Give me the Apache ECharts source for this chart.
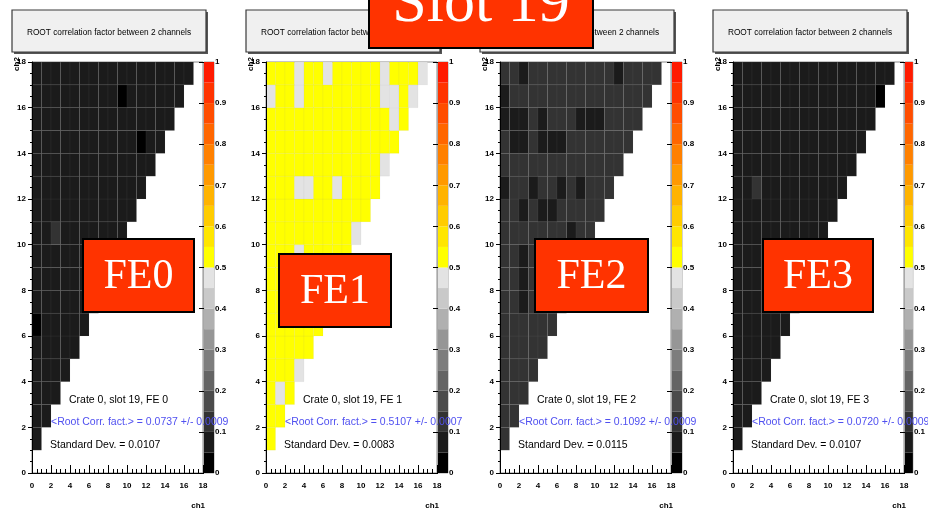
<!DOCTYPE html>
<html>
<head>
<meta charset="utf-8">
<script src="https://cdn.jsdelivr.net/npm/echarts@6/dist/echarts.min.js"></script>
<style>
html,body{margin:0;padding:0;background:#fff;}
#chart{width:928px;height:509px;}
</style>
</head>
<body>
<div id="chart"></div>
<script>
// ---------------- DATA ----------------
// rows are ch2 = 1..17, each row holds the cells ch1 = 0..ch2-1
const fe0Values = [
  [0.07],
  [0.07, 0.07],
  [0.07, 0.07, 0.07],
  [0.07, 0.07, 0.07, 0.07],
  [0.07, 0.07, 0.07, 0.07, 0.07],
  [0.03, 0.07, 0.07, 0.07, 0.07, 0.07],
  [0.07, 0.07, 0.07, 0.07, 0.07, 0.07, 0.07],
  [0.07, 0.07, 0.07, 0.07, 0.07, 0.07, 0.07, 0.07],
  [0.07, 0.07, 0.07, 0.07, 0.07, 0.07, 0.07, 0.07, 0.07],
  [0.07, 0.07, 0.12, 0.07, 0.07, 0.07, 0.07, 0.07, 0.07, 0.07],
  [0.07, 0.07, 0.07, 0.07, 0.07, 0.07, 0.07, 0.07, 0.07, 0.07, 0.07],
  [0.07, 0.07, 0.07, 0.07, 0.07, 0.07, 0.07, 0.07, 0.07, 0.07, 0.07, 0.07],
  [0.07, 0.07, 0.07, 0.07, 0.07, 0.07, 0.07, 0.07, 0.07, 0.07, 0.07, 0.07, 0.07],
  [0.07, 0.07, 0.07, 0.07, 0.07, 0.07, 0.07, 0.07, 0.07, 0.07, 0.07, 0.03, 0.07, 0.07],
  [0.07, 0.07, 0.07, 0.07, 0.07, 0.07, 0.07, 0.07, 0.07, 0.07, 0.07, 0.07, 0.07, 0.07, 0.07],
  [0.07, 0.07, 0.07, 0.07, 0.07, 0.07, 0.07, 0.07, 0.07, 0.03, 0.07, 0.07, 0.07, 0.07, 0.07, 0.07],
  [0.07, 0.07, 0.07, 0.07, 0.07, 0.07, 0.07, 0.07, 0.07, 0.07, 0.07, 0.07, 0.07, 0.07, 0.07, 0.07, 0.07]
];
const fe1Values = [
  [0.51],
  [0.51, 0.51],
  [0.51, 0.48, 0.51],
  [0.51, 0.51, 0.51, 0.48],
  [0.51, 0.51, 0.51, 0.51, 0.51],
  [0.51, 0.51, 0.51, 0.51, 0.51, 0.51],
  [0.51, 0.51, 0.51, 0.51, 0.51, 0.51, 0.51],
  [0.51, 0.51, 0.51, 0.51, 0.51, 0.51, 0.51, 0.51],
  [0.51, 0.51, 0.51, 0.48, 0.51, 0.51, 0.51, 0.51, 0.51],
  [0.51, 0.51, 0.51, 0.51, 0.51, 0.51, 0.51, 0.51, 0.51, 0.48],
  [0.51, 0.51, 0.51, 0.51, 0.51, 0.51, 0.51, 0.51, 0.51, 0.51, 0.51],
  [0.51, 0.51, 0.51, 0.48, 0.48, 0.51, 0.51, 0.48, 0.51, 0.51, 0.51, 0.51],
  [0.51, 0.51, 0.51, 0.51, 0.51, 0.51, 0.51, 0.51, 0.51, 0.51, 0.51, 0.51, 0.48],
  [0.51, 0.51, 0.51, 0.51, 0.51, 0.51, 0.51, 0.51, 0.51, 0.51, 0.51, 0.51, 0.51, 0.51],
  [0.51, 0.51, 0.51, 0.51, 0.51, 0.51, 0.51, 0.51, 0.51, 0.51, 0.51, 0.51, 0.51, 0.48, 0.51],
  [0.48, 0.51, 0.51, 0.48, 0.51, 0.51, 0.51, 0.51, 0.51, 0.51, 0.51, 0.51, 0.48, 0.48, 0.51, 0.48],
  [0.51, 0.51, 0.51, 0.48, 0.51, 0.51, 0.48, 0.51, 0.51, 0.51, 0.51, 0.51, 0.48, 0.51, 0.51, 0.51, 0.48]
];
const fe2Values = [
  [0.12],
  [0.12, 0.12],
  [0.12, 0.12, 0.12],
  [0.12, 0.12, 0.12, 0.12],
  [0.12, 0.12, 0.12, 0.12, 0.12],
  [0.12, 0.12, 0.12, 0.12, 0.12, 0.12],
  [0.12, 0.12, 0.08, 0.12, 0.12, 0.12, 0.12],
  [0.12, 0.12, 0.08, 0.12, 0.12, 0.12, 0.12, 0.12],
  [0.12, 0.12, 0.08, 0.12, 0.12, 0.12, 0.12, 0.12, 0.12],
  [0.12, 0.12, 0.12, 0.12, 0.12, 0.12, 0.12, 0.08, 0.12, 0.12],
  [0.12, 0.12, 0.08, 0.12, 0.08, 0.08, 0.12, 0.12, 0.12, 0.12, 0.12],
  [0.08, 0.12, 0.12, 0.08, 0.12, 0.12, 0.08, 0.12, 0.08, 0.12, 0.12, 0.12],
  [0.12, 0.12, 0.12, 0.12, 0.12, 0.12, 0.12, 0.12, 0.12, 0.12, 0.12, 0.12, 0.12],
  [0.12, 0.08, 0.08, 0.12, 0.08, 0.08, 0.08, 0.12, 0.12, 0.12, 0.12, 0.12, 0.12, 0.12],
  [0.08, 0.08, 0.08, 0.12, 0.08, 0.12, 0.12, 0.12, 0.08, 0.08, 0.08, 0.12, 0.12, 0.12, 0.12],
  [0.08, 0.12, 0.12, 0.12, 0.12, 0.12, 0.12, 0.12, 0.12, 0.12, 0.12, 0.12, 0.12, 0.12, 0.12, 0.12],
  [0.12, 0.12, 0.08, 0.12, 0.12, 0.12, 0.12, 0.12, 0.12, 0.12, 0.12, 0.12, 0.08, 0.12, 0.12, 0.12, 0.12]
];
const fe3Values = [
  [0.07],
  [0.07, 0.07],
  [0.07, 0.07, 0.07],
  [0.07, 0.07, 0.07, 0.07],
  [0.07, 0.07, 0.07, 0.07, 0.07],
  [0.07, 0.07, 0.07, 0.07, 0.07, 0.07],
  [0.07, 0.07, 0.07, 0.07, 0.07, 0.07, 0.07],
  [0.07, 0.07, 0.07, 0.07, 0.07, 0.07, 0.07, 0.07],
  [0.07, 0.07, 0.07, 0.07, 0.07, 0.07, 0.07, 0.07, 0.07],
  [0.07, 0.07, 0.07, 0.07, 0.07, 0.07, 0.07, 0.07, 0.07, 0.07],
  [0.07, 0.07, 0.07, 0.07, 0.07, 0.07, 0.07, 0.07, 0.07, 0.07, 0.07],
  [0.07, 0.07, 0.12, 0.07, 0.07, 0.07, 0.07, 0.07, 0.07, 0.07, 0.07, 0.07],
  [0.07, 0.07, 0.07, 0.07, 0.07, 0.07, 0.07, 0.07, 0.07, 0.07, 0.07, 0.07, 0.07],
  [0.07, 0.07, 0.07, 0.07, 0.07, 0.07, 0.07, 0.07, 0.07, 0.07, 0.07, 0.07, 0.07, 0.07],
  [0.07, 0.07, 0.07, 0.07, 0.07, 0.07, 0.07, 0.07, 0.07, 0.07, 0.07, 0.07, 0.07, 0.07, 0.07],
  [0.07, 0.07, 0.07, 0.07, 0.07, 0.07, 0.07, 0.07, 0.07, 0.07, 0.07, 0.07, 0.07, 0.07, 0.07, 0.03],
  [0.07, 0.07, 0.07, 0.07, 0.07, 0.07, 0.07, 0.07, 0.07, 0.07, 0.07, 0.07, 0.07, 0.07, 0.07, 0.07, 0.07]
];
const panelValues = [fe0Values, fe1Values, fe2Values, fe3Values];
const panelLabels = ['FE0', 'FE1', 'FE2', 'FE3'];
const crateTexts = ['Crate 0, slot 19, FE 0', 'Crate 0, slot 19, FE 1', 'Crate 0, slot 19, FE 2', 'Crate 0, slot 19, FE 3'];
const meanTexts = ['<Root Corr. fact.> = 0.0737 +/- 0.0009', '<Root Corr. fact.> = 0.5107 +/- 0.0007',
                   '<Root Corr. fact.> = 0.1092 +/- 0.0009', '<Root Corr. fact.> = 0.0720 +/- 0.0009'];
const stdTexts = ['Standard Dev. = 0.0107', 'Standard Dev. = 0.0083', 'Standard Dev. = 0.0115', 'Standard Dev. = 0.0107'];
const histTitle = 'ROOT correlation factor between 2 channels';
const slotTitle = 'Slot 19';
const xName = 'ch1', yName = 'ch2';
// colour bar: 20 levels from 0 to 1
const levelEdges = [0, 0.05, 0.1, 0.15, 0.2, 0.25, 0.3, 0.35, 0.4, 0.45, 0.5, 0.55, 0.6, 0.65, 0.7, 0.75, 0.8, 0.85, 0.9, 0.95, 1];
const levelColors = ['#000000', '#1b1b1b', '#333333', '#4b4b4b', '#646464', '#7d7d7d', '#969696', '#b0b0b0', '#c9c9c9', '#e3e3e3',
                     '#ffff00', '#ffe600', '#ffcc00', '#ffb300', '#ff9900', '#ff8000', '#ff6600', '#ff4d00', '#ff3300', '#ff1a00'];

// ---------------- LAYOUT ----------------
const panelLeft = [32, 266, 500, 733];
const plotW = 171, plotTop = 62, plotH = 411;
const barGap = 1, barW = 10;
const feBoxes = [[83, 239, 111, 73], [279, 254, 112, 73], [535, 239, 113, 73], [763, 239, 110, 73]];
const FONT = '"Liberation Sans", Arial, sans-serif';
const SERIF = '"Liberation Serif", "Times New Roman", serif';

function colorFor(v) {
  for (let k = 0; k < levelColors.length; k++) {
    if (v < levelEdges[k + 1]) return levelColors[k];
  }
  return levelColors[levelColors.length - 1];
}

const grids = [], xAxes = [], yAxes = [], series = [], graphics = [];

panelValues.forEach((rows, p) => {
  const left = panelLeft[p];
  // main plot
  grids.push({left: left, top: plotTop, width: plotW, height: plotH, show: true, borderColor: '#8a8a8a', borderWidth: 1, backgroundColor: 'transparent'});
  const gi = grids.length - 1;
  xAxes.push({gridIndex: gi, type: 'value', min: 0, max: 18, interval: 2,
    axisLine: {show: true, onZero: false, lineStyle: {color: '#000', width: 1}},
    axisTick: {show: true, inside: true, length: 8, lineStyle: {color: '#000', width: 1}},
    minorTick: {show: true, splitNumber: 4, length: 4, lineStyle: {color: '#000', width: 1}},
    splitLine: {show: false},
    axisLabel: {fontFamily: FONT, fontSize: 8, fontWeight: 'bold', color: '#000', margin: 9}
  });
  yAxes.push({gridIndex: gi, type: 'value', min: 0, max: 18, interval: 2, z: 3,
    axisLine: {show: true, onZero: false, lineStyle: {color: '#000', width: 1}},
    axisTick: {show: true, inside: false, length: 4, lineStyle: {color: '#000', width: 1}},
    minorTick: {show: true, splitNumber: 4, length: 2, lineStyle: {color: '#000', width: 1}},
    splitLine: {show: false},
    axisLabel: {fontFamily: FONT, fontSize: 8, fontWeight: 'bold', color: '#000', margin: 6}
  });
  const data = [];
  rows.forEach((row, r) => {
    row.forEach((v, c) => data.push([c, r + 1, v]));
  });
  series.push({
    type: 'custom', xAxisIndex: gi, yAxisIndex: gi, data: data, clip: true,
    renderItem: function (params, api) {
      const x = api.value(0), y = api.value(1), v = api.value(2);
      const a = api.coord([x, y + 1]);
      const b = api.coord([x + 1, y]);
      return {type: 'rect', shape: {x: a[0], y: a[1], width: b[0] - a[0], height: b[1] - a[1]},
        style: {fill: colorFor(v), stroke: 'rgba(140,140,140,0.12)', lineWidth: 0.6}};
    }
  });
  // colour bar
  grids.push({left: left + plotW + barGap, top: plotTop, width: barW, height: plotH, show: true, borderColor: '#666', borderWidth: 0.6, backgroundColor: 'transparent'});
  const bi = grids.length - 1;
  xAxes.push({gridIndex: bi, type: 'value', min: 0, max: 1, show: false});
  yAxes.push({gridIndex: bi, type: 'value', position: 'right', min: 0, max: 1, interval: 0.1, z: 5,
    axisLine: {show: false},
    axisTick: {show: true, inside: true, length: 5, lineStyle: {color: '#000', width: 1}},
    splitLine: {show: false},
    axisLabel: {fontFamily: FONT, fontSize: 8, fontWeight: 'bold', color: '#000', margin: 1,
      formatter: v => (Math.round(v * 10) / 10).toString()}
  });
  const barData = levelColors.map((c, k) => [0, levelEdges[k], levelEdges[k + 1]]);
  series.push({
    type: 'custom', xAxisIndex: bi, yAxisIndex: bi, data: barData,
    encode: {x: 0, y: [1, 2]},
    renderItem: function (params, api) {
      const a = api.coord([0, api.value(2)]);
      const b = api.coord([1, api.value(1)]);
      return {type: 'rect', shape: {x: a[0], y: a[1], width: b[0] - a[0], height: b[1] - a[1]},
        style: {fill: levelColors[params.dataIndex]}};
    }
  });

  // title pave
  graphics.push({type: 'rect', shape: {x: left - 18, y: 12, width: 194, height: 42}, style: {fill: '#555'}, z: 100});
  graphics.push({type: 'rect', shape: {x: left - 20, y: 10, width: 194, height: 42}, style: {fill: '#f0f0f0', stroke: '#3a3a3a', lineWidth: 1.2}, z: 101});
  graphics.push({type: 'text', x: left + 77, y: 33, style: {text: histTitle, font: '8.3px ' + FONT, fill: '#000', textAlign: 'center', textVerticalAlign: 'middle'}, z: 102});
  // axis names
  graphics.push({type: 'text', x: left - 15, y: 64, rotation: Math.PI / 2, style: {text: yName, font: 'bold 8px ' + FONT, fill: '#000', textAlign: 'center', textVerticalAlign: 'middle'}, z: 102});
  graphics.push({type: 'text', x: left + 173, y: 506, style: {text: xName, font: 'bold 8px ' + FONT, fill: '#000', textAlign: 'right', textVerticalAlign: 'middle'}, z: 102});
  // stats text
  graphics.push({type: 'text', x: left + 37, y: 400, style: {text: crateTexts[p], font: '10.5px ' + FONT, fill: '#000', textAlign: 'left', textVerticalAlign: 'middle'}, z: 102});
  graphics.push({type: 'text', x: left + 19, y: 422, style: {text: meanTexts[p], font: '10.5px ' + FONT, fill: '#5050f0', textAlign: 'left', textVerticalAlign: 'middle'}, z: 102});
  graphics.push({type: 'text', x: left + 18, y: 445, style: {text: stdTexts[p], font: '10.5px ' + FONT, fill: '#000', textAlign: 'left', textVerticalAlign: 'middle'}, z: 102});
  // FE label
  const fb = feBoxes[p];
  graphics.push({type: 'rect', shape: {x: fb[0], y: fb[1], width: fb[2], height: fb[3]}, style: {fill: '#ff3300', stroke: '#000', lineWidth: 2}, z: 110});
  graphics.push({type: 'text', x: fb[0] + fb[2] / 2, y: fb[1] + fb[3] / 2 + 1, style: {text: panelLabels[p], font: '42px ' + SERIF, fill: '#fff', textAlign: 'center', textVerticalAlign: 'middle'}, z: 111});
});

// Slot title box
graphics.push({type: 'rect', shape: {x: 369, y: -10, width: 224, height: 58}, style: {fill: '#ff3300', stroke: '#000', lineWidth: 2}, z: 120});
graphics.push({type: 'text', x: 481, y: 5, style: {text: slotTitle, font: '62px ' + SERIF, fill: '#fff', textAlign: 'center', textVerticalAlign: 'middle'}, z: 121});

const chart = echarts.init(document.getElementById('chart'), null, {renderer: 'canvas'});
chart.setOption({
  animation: false,
  backgroundColor: '#fff',
  grid: grids,
  xAxis: xAxes,
  yAxis: yAxes,
  series: series,
  graphic: {elements: graphics}
});
</script>
</body>
</html>
